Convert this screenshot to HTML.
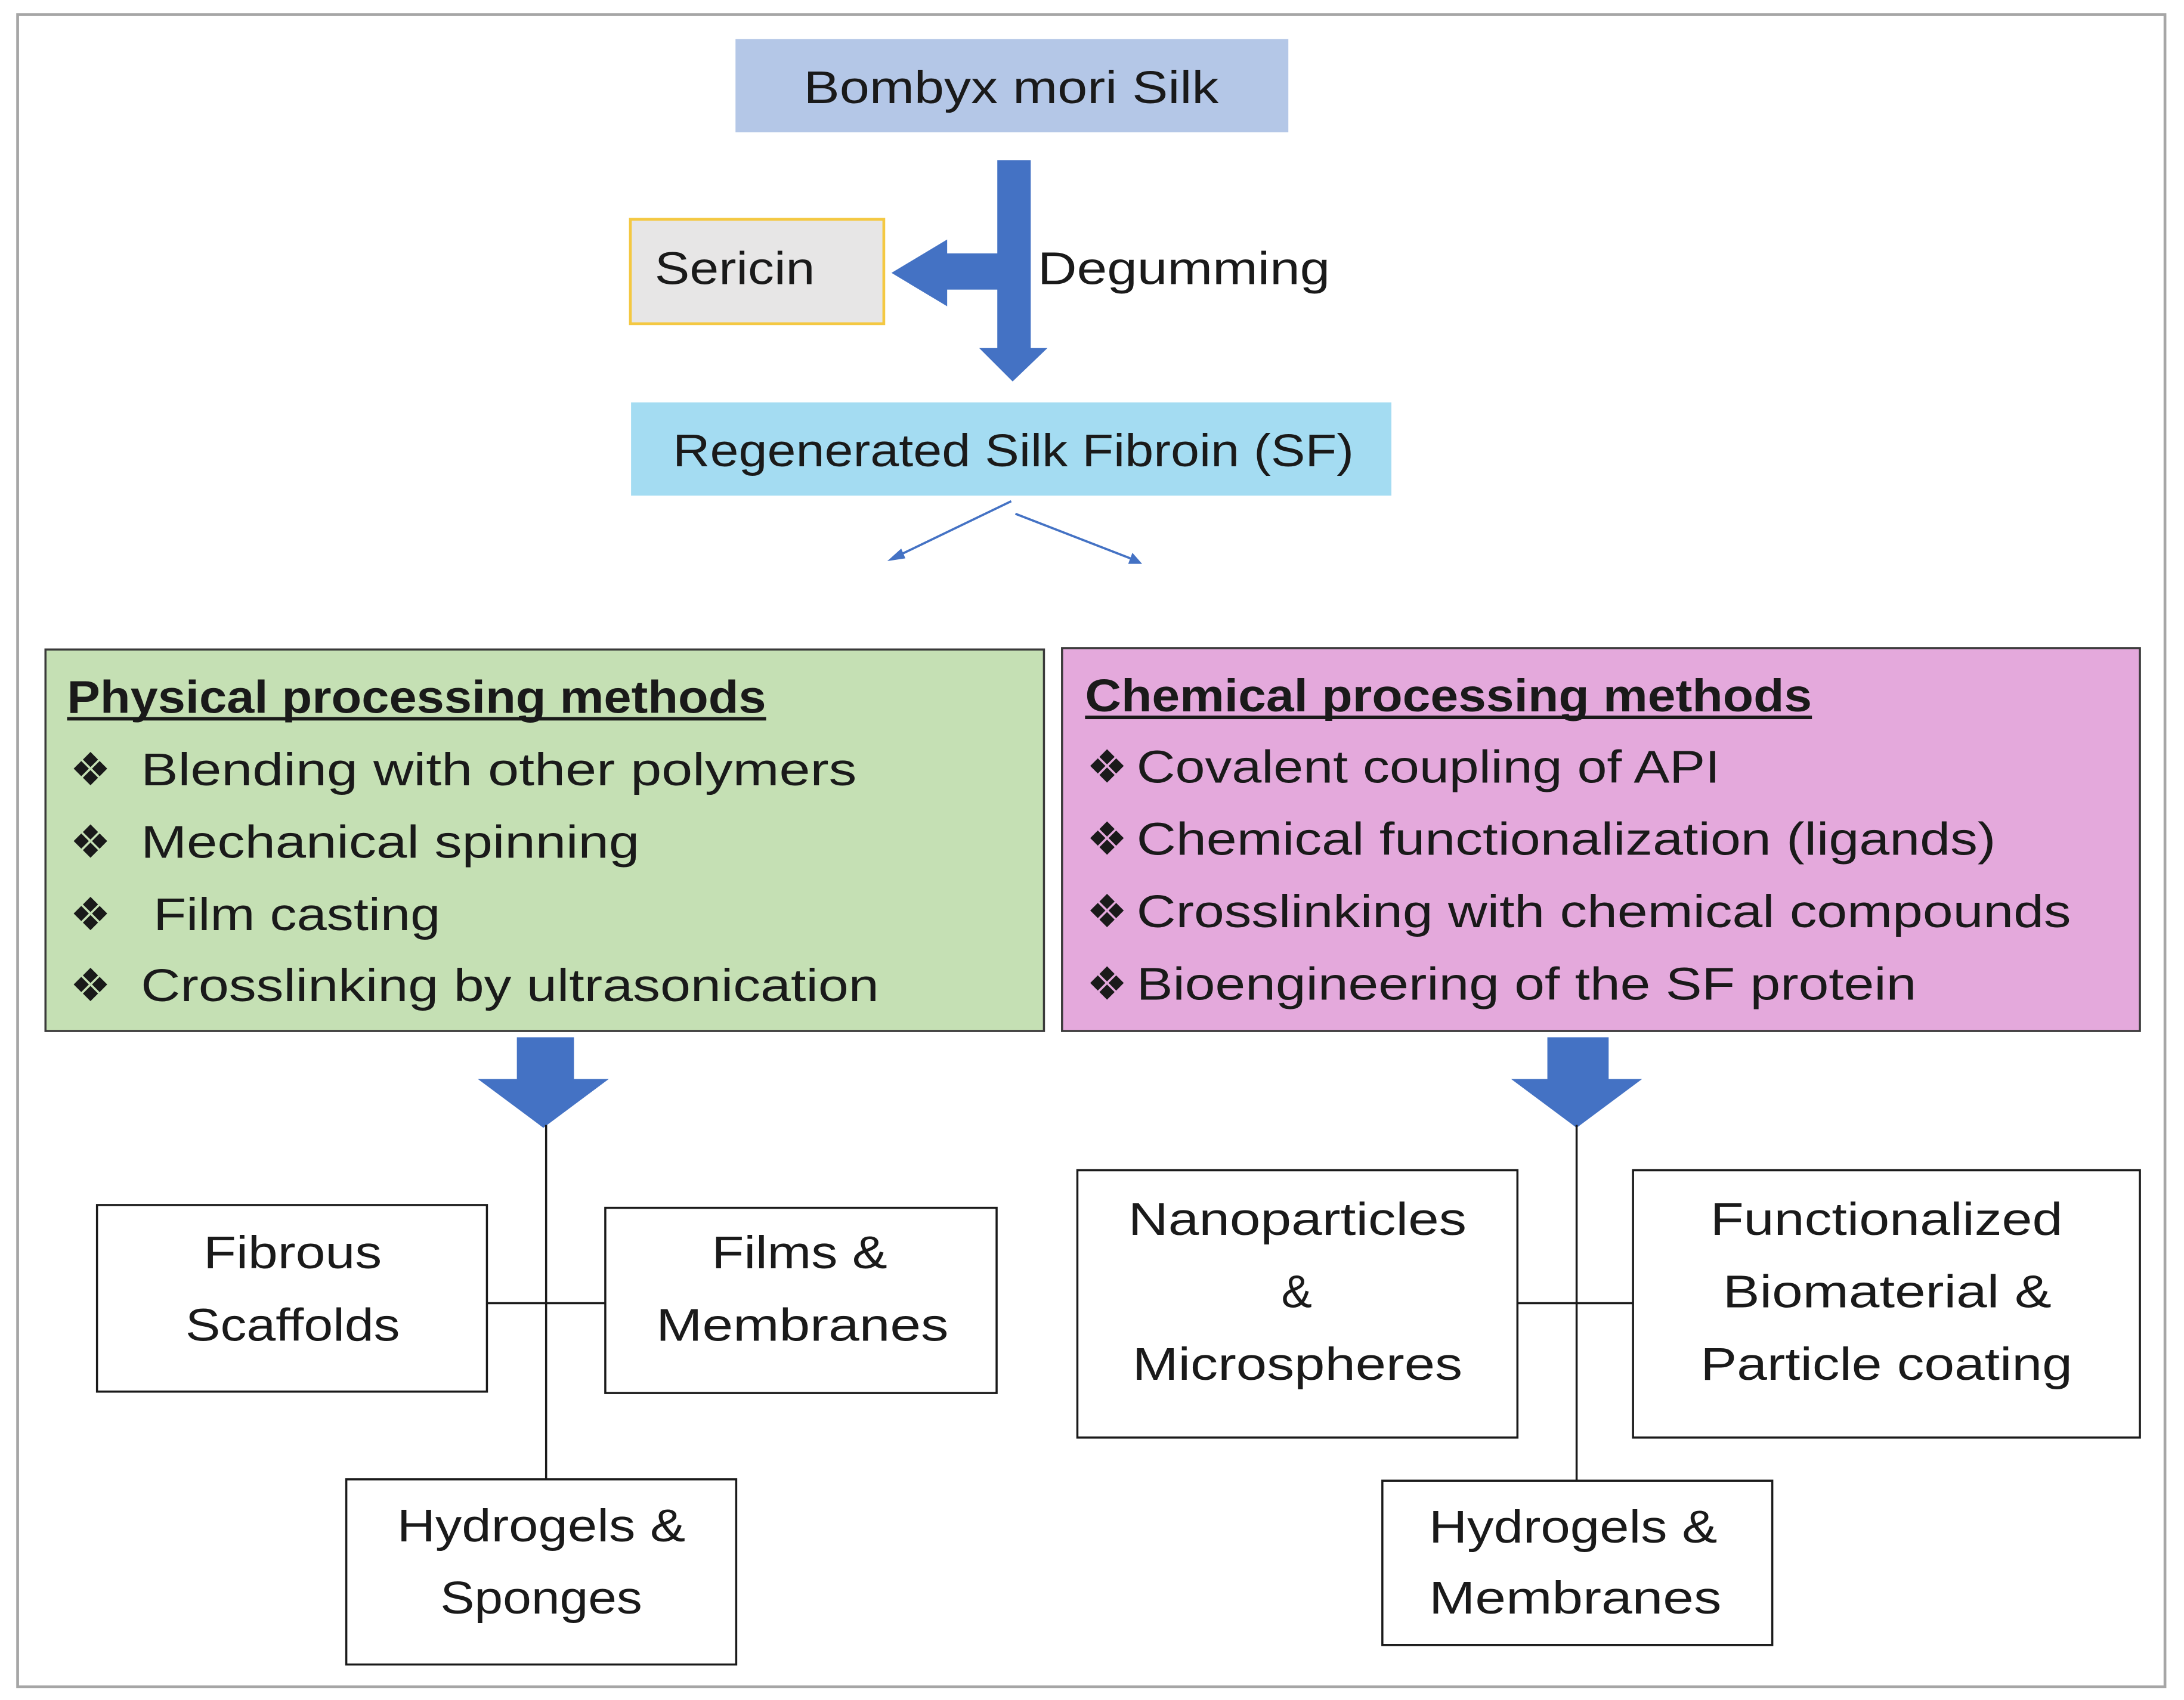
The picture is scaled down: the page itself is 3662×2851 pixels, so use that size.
<!DOCTYPE html>
<html><head><meta charset="utf-8"><style>
html,body{margin:0;padding:0;background:#fff}
svg{display:block}
text{font-family:"Liberation Sans",sans-serif;font-size:33px;fill:#1a1a1a}
</style></head><body>
<svg width="3662" height="2851" viewBox="0 0 1568 1221" xmlns="http://www.w3.org/2000/svg">
<rect x="0" y="0" width="1568" height="1221" fill="#fff"/>
<rect x="12.5" y="10.5" width="1542" height="1201" fill="none" stroke="#a6a6a6" stroke-width="2"/>

<!-- Bombyx -->
<rect x="528" y="28" width="397" height="67" fill="#b4c7e7"/>
<text x="577" y="74" textLength="298" lengthAdjust="spacingAndGlyphs">Bombyx mori Silk</text>

<!-- arrows degumming -->
<g fill="#4472c4">
<rect x="716" y="115" width="24" height="137"/>
<polygon points="703,250 752,250 727,274"/>
<rect x="678" y="182" width="40" height="26"/>
<polygon points="680,172 680,220 640,196"/>
</g>
<rect x="452.5" y="157.5" width="182" height="75" fill="#e7e6e6" stroke="#f4c842" stroke-width="2"/>
<text x="470" y="204" textLength="115" lengthAdjust="spacingAndGlyphs">Sericin</text>
<text x="745" y="204" textLength="210" lengthAdjust="spacingAndGlyphs">Degumming</text>

<!-- Regenerated -->
<rect x="453" y="289" width="546" height="67" fill="#a4dcf2"/>
<text x="483" y="335" textLength="489" lengthAdjust="spacingAndGlyphs">Regenerated Silk Fibroin (SF)</text>

<g stroke="#4472c4" stroke-width="1.6" fill="#4472c4">
<line x1="726" y1="360" x2="643" y2="400"/>
<polygon points="637,403 647,394 650,401" stroke="none"/>
<line x1="729" y1="369" x2="814" y2="402"/>
<polygon points="820,405 810,405 813,397" stroke="none"/>
</g>

<!-- Green box -->
<rect x="32.5" y="466.5" width="717" height="274" fill="#c5e0b4" stroke="#3a3a3a" stroke-width="1.5"/>
<text x="48" y="512" textLength="502" lengthAdjust="spacingAndGlyphs" font-weight="bold">Physical processing methods</text>
<rect x="48" y="515" width="502" height="2.5" fill="#1a1a1a"/>
<text x="50" y="564">❖</text><text x="101" y="564" textLength="514" lengthAdjust="spacingAndGlyphs">Blending with other polymers</text>
<text x="50" y="616">❖</text><text x="101" y="616" textLength="358" lengthAdjust="spacingAndGlyphs">Mechanical spinning</text>
<text x="50" y="668">❖</text><text x="110" y="668" textLength="206" lengthAdjust="spacingAndGlyphs">Film casting</text>
<text x="50" y="719">❖</text><text x="101" y="719" textLength="530" lengthAdjust="spacingAndGlyphs">Crosslinking by ultrasonication</text>

<!-- Pink box -->
<rect x="762.5" y="465.5" width="774" height="275" fill="#e4a9dc" stroke="#3a3a3a" stroke-width="1.5"/>
<text x="779" y="511" textLength="522" lengthAdjust="spacingAndGlyphs" font-weight="bold">Chemical processing methods</text>
<rect x="779" y="514" width="522" height="2.5" fill="#1a1a1a"/>
<text x="780" y="562">❖</text><text x="816" y="562" textLength="419" lengthAdjust="spacingAndGlyphs">Covalent coupling of API</text>
<text x="780" y="614">❖</text><text x="816" y="614" textLength="617" lengthAdjust="spacingAndGlyphs">Chemical functionalization (ligands)</text>
<text x="780" y="666">❖</text><text x="816" y="666" textLength="671" lengthAdjust="spacingAndGlyphs">Crosslinking with chemical compounds</text>
<text x="780" y="718">❖</text><text x="816" y="718" textLength="560" lengthAdjust="spacingAndGlyphs">Bioengineering of the SF protein</text>

<!-- block arrows -->
<g fill="#4472c4">
<rect x="371" y="745" width="41" height="32"/>
<polygon points="343,775 437,775 390,810"/>
<rect x="1111" y="745" width="44" height="32"/>
<polygon points="1085,775 1179,775 1132,810"/>
</g>

<!-- trees -->
<g stroke="#1a1a1a" stroke-width="1.5" fill="none">
<line x1="392" y1="808" x2="392" y2="1062"/>
<line x1="350" y1="936" x2="434" y2="936"/>
<line x1="1132" y1="808" x2="1132" y2="1063"/>
<line x1="1089" y1="936" x2="1172" y2="936"/>
<rect x="69.5" y="865.5" width="280" height="134" fill="#fff"/>
<rect x="434.5" y="867.5" width="281" height="133" fill="#fff"/>
<rect x="248.5" y="1062.5" width="280" height="133" fill="#fff"/>
<rect x="773.5" y="840.5" width="316" height="192" fill="#fff"/>
<rect x="1172.5" y="840.5" width="364" height="192" fill="#fff"/>
<rect x="992.5" y="1063.5" width="280" height="118" fill="#fff"/>
</g>

<text x="146" y="911" textLength="128" lengthAdjust="spacingAndGlyphs">Fibrous</text>
<text x="133" y="963" textLength="154" lengthAdjust="spacingAndGlyphs">Scaffolds</text>
<text x="511" y="911" textLength="126" lengthAdjust="spacingAndGlyphs">Films &amp;</text>
<text x="471" y="963" textLength="210" lengthAdjust="spacingAndGlyphs">Membranes</text>
<text x="285" y="1107" textLength="207" lengthAdjust="spacingAndGlyphs">Hydrogels &amp;</text>
<text x="316" y="1159" textLength="145" lengthAdjust="spacingAndGlyphs">Sponges</text>

<text x="810" y="887" textLength="243" lengthAdjust="spacingAndGlyphs">Nanoparticles</text>
<text x="931" y="939" text-anchor="middle">&amp;</text>
<text x="813" y="991" textLength="237" lengthAdjust="spacingAndGlyphs">Microspheres</text>
<text x="1228" y="887" textLength="253" lengthAdjust="spacingAndGlyphs">Functionalized</text>
<text x="1237" y="939" textLength="236" lengthAdjust="spacingAndGlyphs">Biomaterial &amp;</text>
<text x="1221" y="991" textLength="267" lengthAdjust="spacingAndGlyphs">Particle coating</text>
<text x="1026" y="1108" textLength="207" lengthAdjust="spacingAndGlyphs">Hydrogels &amp;</text>
<text x="1026" y="1159" textLength="210" lengthAdjust="spacingAndGlyphs">Membranes</text>
</svg>
</body></html>
